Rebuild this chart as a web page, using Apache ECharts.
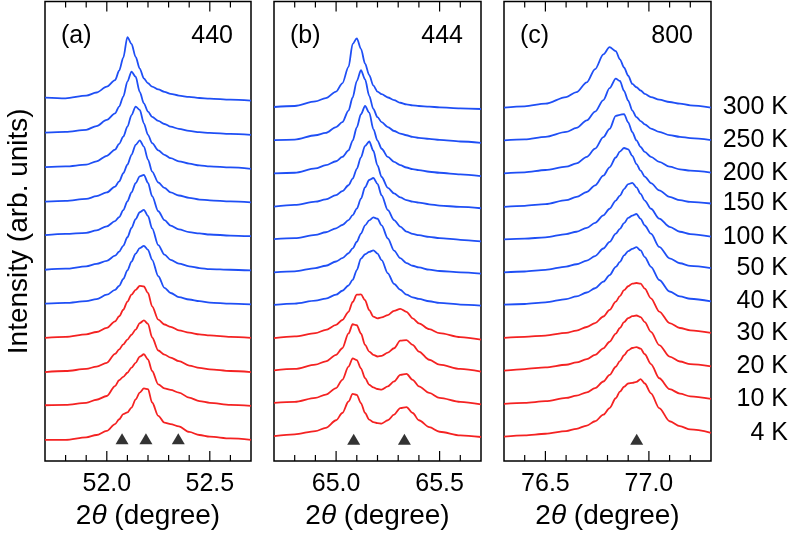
<!DOCTYPE html>
<html>
<head>
<meta charset="utf-8">
<script src="https://cdn.jsdelivr.net/npm/echarts@6/dist/echarts.min.js"></script>
<style>
  html, body { margin: 0; padding: 0; background: #fff; }
  #chart { width: 789px; height: 535px; }
</style>
</head>
<body>
<div id="chart"></div>
<script>
// temperatures, bottom curve first
const temps = ['4 K', '10 K', '20 K', '30 K', '40 K', '50 K', '100 K', '150 K', '200 K', '250 K', '300 K']

// (a) 440 reflection: 2theta grid and profiles (height above own baseline, 100 = curve spacing)
const gridA = [51.70, 51.80, 51.90, 51.95, 52.00, 52.04, 52.06, 52.08, 52.10, 52.12, 52.14, 52.16,
  52.18, 52.20, 52.22, 52.25, 52.28, 52.31, 52.35, 52.40, 52.45, 52.50, 52.60, 52.70]
const profA = [
  [1, 1, 8, 15, 27, 47, 61, 76, 81, 95, 119, 139, 151, 149, 110, 71, 51, 47, 40, 24, 15, 10, 5, 1],
  [2, 3, 9, 18, 29, 58, 75, 85, 97, 112, 126, 144, 151, 136, 102, 63, 51, 47, 39, 24, 14, 9, 3, 0],
  [-1, 2, 8, 15, 26, 52, 65, 80, 94, 108, 123, 142, 150, 140, 100, 62, 50, 41, 31, 18, 11, 7, 2, -1],
  [-1, 2, 9, 16, 28, 47, 62, 81, 105, 125, 139, 151, 149, 130, 91, 52, 38, 31, 21, 14, 9, 6, 2, -1],
  [-1, 1, 6, 12, 25, 39, 51, 71, 96, 122, 145, 161, 168, 156, 127, 79, 45, 30, 18, 11, 6, 2, -1, -3],
  [-2, 1, 8, 15, 24, 39, 51, 68, 93, 120, 146, 166, 173, 155, 119, 70, 42, 27, 16, 8, 3, 0, -2, -4],
  [-1, 3, 6, 13, 25, 40, 52, 72, 98, 124, 151, 171, 175, 152, 113, 69, 43, 27, 16, 8, 4, 1, -2, -4],
  [-3, -1, 5, 13, 24, 41, 56, 80, 105, 134, 163, 176, 158, 120, 85, 53, 37, 24, 15, 8, 3, 1, -2, -5],
  [-2, 0, 5, 15, 31, 49, 66, 87, 116, 150, 175, 165, 126, 92, 68, 47, 34, 24, 15, 8, 3, 0, -3, -7],
  [-1, 1, 7, 18, 36, 55, 75, 104, 148, 177, 162, 118, 84, 60, 45, 33, 24, 16, 10, 4, 0, -2, -5, -8],
  [1, -1, 7, 16, 33, 52, 80, 118, 178, 158, 120, 86, 57, 43, 33, 25, 18, 12, 7, 3, 0, -2, -5, -8]
]

// (b) 444 reflection
const gridB = [64.70, 64.80, 64.90, 64.95, 65.00, 65.03, 65.06, 65.08, 65.10, 65.12, 65.14, 65.16,
  65.18, 65.20, 65.22, 65.25, 65.28, 65.31, 65.34, 65.37, 65.40, 65.45, 65.50, 65.60, 65.70]
const profB = [
  [2, 7, 17, 27, 50, 72, 107, 130, 127, 102, 72, 52, 44, 41, 40, 50, 67, 87, 90, 72, 50, 29, 15, 4, -1],
  [3, 6, 18, 28, 48, 73, 113, 138, 133, 108, 78, 58, 50, 45, 43, 53, 68, 88, 91, 73, 53, 33, 18, 6, -2],
  [2, 6, 19, 29, 49, 69, 114, 142, 139, 114, 79, 59, 49, 44, 46, 56, 69, 92, 94, 79, 59, 34, 19, 6, -2],
  [0, 5, 15, 25, 40, 55, 80, 110, 132, 133, 115, 85, 65, 60, 63, 70, 83, 89, 80, 60, 45, 27, 15, 3, -5],
  [1, 5, 14, 20, 32, 44, 60, 77, 107, 142, 155, 162, 167, 157, 137, 97, 65, 47, 32, 24, 19, 12, 7, 2, -1],
  [0, 3, 13, 20, 33, 43, 58, 73, 93, 118, 143, 158, 167, 163, 143, 103, 66, 43, 28, 20, 15, 8, 4, 0, -4],
  [1, 4, 14, 22, 34, 44, 59, 74, 94, 124, 159, 181, 187, 169, 134, 89, 59, 39, 24, 17, 13, 8, 4, -1, -6],
  [0, 5, 15, 22, 35, 47, 65, 85, 115, 150, 185, 198, 170, 125, 90, 57, 40, 28, 20, 15, 12, 7, 3, -1, -5],
  [1, 3, 16, 26, 38, 51, 71, 101, 141, 181, 206, 186, 136, 101, 76, 51, 36, 26, 19, 14, 11, 6, 3, -2, -7],
  [2, 4, 17, 24, 42, 57, 92, 132, 182, 215, 187, 137, 97, 72, 57, 42, 30, 22, 17, 12, 9, 6, 3, -2, -6],
  [3, 6, 20, 30, 50, 75, 125, 195, 212, 180, 135, 100, 68, 50, 42, 32, 24, 16, 11, 8, 6, 4, 2, -1, -3]
]

// (c) 800 reflection
const gridC = [76.30, 76.40, 76.50, 76.60, 76.65, 76.70, 76.74, 76.78, 76.81, 76.84, 76.86, 76.88,
  76.90, 76.92, 76.94, 76.96, 76.98, 77.01, 77.05, 77.10, 77.15, 77.20, 77.30]
const profC = [
  [-2, 2, 7, 15, 22, 32, 45, 65, 85, 115, 135, 150, 160, 162, 165, 173, 160, 130, 85, 45, 30, 20, 10],
  [-2, 1, 6, 16, 23, 33, 46, 66, 86, 111, 128, 146, 161, 168, 171, 166, 149, 119, 76, 43, 29, 21, 13],
  [-1, 4, 9, 17, 24, 34, 47, 67, 87, 112, 129, 147, 159, 165, 167, 162, 147, 117, 77, 42, 27, 19, 12],
  [-1, 2, 6, 14, 21, 32, 44, 64, 84, 109, 126, 144, 156, 164, 166, 164, 149, 119, 79, 44, 29, 22, 14],
  [0, 2, 7, 17, 25, 37, 50, 70, 90, 115, 130, 150, 163, 170, 175, 165, 145, 115, 75, 40, 25, 18, 10],
  [-2, 1, 6, 16, 23, 34, 48, 71, 91, 116, 131, 148, 164, 171, 176, 161, 141, 116, 76, 41, 26, 18, 11],
  [-1, 1, 5, 15, 22, 34, 49, 72, 92, 117, 132, 152, 167, 171, 157, 137, 117, 92, 62, 37, 22, 15, 7],
  [-2, 1, 6, 18, 28, 43, 63, 93, 118, 148, 166, 177, 173, 153, 128, 108, 90, 70, 48, 28, 18, 13, 8],
  [0, 3, 10, 20, 30, 50, 75, 110, 135, 175, 178, 180, 155, 125, 100, 80, 65, 50, 35, 20, 12, 8, 2],
  [0, 3, 11, 26, 38, 61, 88, 123, 159, 188, 181, 151, 121, 91, 71, 59, 49, 36, 26, 16, 11, 7, 1],
  [0, 4, 12, 32, 47, 77, 117, 162, 184, 172, 147, 122, 97, 72, 62, 52, 42, 32, 24, 17, 12, 7, 0]
]

// peak markers (triangles)
const marksA = [[52.074, 4], [52.19, 4], [52.347, 4]]
const marksB = [[65.085, -8], [65.33, -8]]
const marksC = [[76.941, -10]]

// tick values
const majorA = [52.0, 52.5]
const minorA = [51.8, 51.9, 52.1, 52.2, 52.3, 52.4, 52.6]
const majorB = [65.0, 65.5]
const minorB = [64.8, 64.9, 65.1, 65.2, 65.3, 65.4, 65.6]
const majorC = [76.5, 77.0]
const minorC = [76.4, 76.6, 76.7, 76.8, 76.9, 77.1, 77.2]

const fontFam = '"Liberation Sans", Arial, Helvetica, sans-serif'
const blue = '#1f4ff5'
const red = '#f42222'
const plotHeight = 460

const panels = [
  { x: gridA, prof: profA, marks: marksA, major: majorA, minor: minorA, xr: [51.7, 52.7], yr: [-61, 1282], left: 45, width: 206, tag: '(a)', hkl: '440' },
  { x: gridB, prof: profB, marks: marksB, major: majorB, minor: minorB, xr: [64.7, 65.7], yr: [-74, 1324], left: 274, width: 207, tag: '(b)', hkl: '444' },
  { x: gridC, prof: profC, marks: marksC, major: majorC, minor: minorC, xr: [76.3, 77.3], yr: [-76, 1323], left: 504, width: 207, tag: '(c)', hkl: '800' }
]

const chart = echarts.init(document.getElementById('chart'))

const grids = []
const xAxes = []
const yAxes = []
const titles = []
const series = []

// inward frame ticks drawn as tiny line series (bottom and top edge)
function pushTicks (k, p, vals, lenPx) {
  const unit = (p.yr[1] - p.yr[0]) / plotHeight
  const len = lenPx * unit
  vals.forEach(v => {
    [[p.yr[0], p.yr[0] + len], [p.yr[1], p.yr[1] - len]].forEach(([y0, y1]) => {
      series.push({
        type: 'line',
        xAxisIndex: k,
        yAxisIndex: k,
        data: [[v, y0], [v, y1]],
        showSymbol: false,
        symbol: 'none',
        silent: true,
        clip: false,
        z: 6,
        lineStyle: { color: '#000', width: 1.2 }
      })
    })
  })
}

panels.forEach((p, k) => {
  grids.push({
    left: p.left, width: p.width, top: 1.5, height: plotHeight,
    show: true, borderColor: '#000', borderWidth: 1.5, backgroundColor: 'transparent'
  })

  xAxes.push({
    type: 'value', gridIndex: k, min: p.xr[0], max: p.xr[1], position: 'bottom',
    splitLine: { show: false },
    axisLine: { show: false, onZero: false },
    axisTick: { show: false },
    axisLabel: {
      show: true, customValues: p.major, margin: 11, fontSize: 25, color: '#000', fontFamily: fontFam,
      formatter: v => v.toFixed(1)
    },
    name: '2{it|θ} (degree)',
    nameLocation: 'middle',
    nameGap: 41,
    nameTextStyle: {
      fontSize: 28, color: '#000', fontFamily: fontFam,
      rich: { it: { fontSize: 28, fontStyle: 'italic', color: '#000', fontFamily: fontFam } }
    }
  })

  yAxes.push({
    type: 'value', gridIndex: k, min: p.yr[0], max: p.yr[1],
    axisLine: { show: false, onZero: false }, axisTick: { show: false }, axisLabel: { show: false }, splitLine: { show: false },
    name: k === 0 ? 'Intensity (arb. units)' : '',
    nameLocation: 'middle',
    nameGap: 12,
    nameTextStyle: { fontSize: 28, color: '#000', fontFamily: fontFam }
  })

  const ts = { fontSize: 25, fontWeight: 'normal', color: '#000', fontFamily: fontFam }
  titles.push({ text: p.tag, left: p.left + 16, top: 24, padding: 0, textStyle: ts })
  titles.push({ text: p.hkl, right: 789 - (p.left + p.width - 18), top: 24, padding: 0, textStyle: ts })

  p.prof.forEach((row, i) => {
    series.push({
      type: 'line',
      xAxisIndex: k,
      yAxisIndex: k,
      data: p.x.map((x, j) => [x, row[j] + i * 100]),
      showSymbol: false,
      symbol: 'none',
      smooth: 0.3,
      smoothMonotone: 'x',
      silent: true,
      lineStyle: { color: i < 4 ? red : blue, width: 1.8 },
      endLabel: {
        show: k === 2,
        formatter: temps[i],
        align: 'right',
        distance: 77,
        fontSize: 25,
        color: '#000',
        fontFamily: fontFam
      }
    })
  })

  series.push({
    type: 'scatter',
    xAxisIndex: k,
    yAxisIndex: k,
    data: p.marks,
    symbol: 'triangle',
    symbolSize: [13, 11],
    itemStyle: { color: '#000' },
    silent: true,
    z: 5
  })

  pushTicks(k, p, p.major, 10)
  pushTicks(k, p, p.minor, 6)
})

chart.setOption({
  animation: false,
  backgroundColor: '#fff',
  title: titles,
  grid: grids,
  xAxis: xAxes,
  yAxis: yAxes,
  series: series
})
</script>
</body>
</html>
